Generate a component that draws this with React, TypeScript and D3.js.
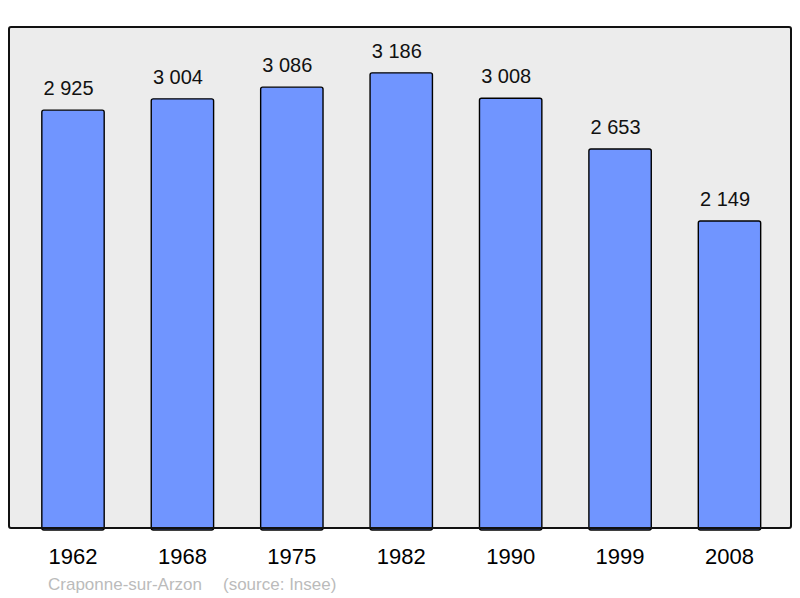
import React, { useRef, useEffect } from "react";
import * as d3 from "d3";

const years = ["1962", "1968", "1975", "1982", "1990", "1999", "2008"];
const population = [2925, 3004, 3086, 3186, 3008, 2653, 2149];
const townName = "Craponne-sur-Arzon";
const sourceText = "(source: Insee)";

const App = () => {
  const ref = useRef<SVGSVGElement>(null);

  useEffect(() => {
    const width = 800;
    const height = 598;
    const frame = { left: 9, top: 27, right: 791, bottom: 528 };
    const barColor = "#7095ff";
    const bgColor = "#ececec";
    const font = "'Liberation Sans', Arial, sans-serif";

    const svg = d3.select(ref.current).attr("width", width).attr("height", height);
    svg.selectAll("*").remove();

    // frame background
    svg.append("rect")
      .attr("x", frame.left)
      .attr("y", frame.top)
      .attr("width", frame.right - frame.left)
      .attr("height", frame.bottom - frame.top)
      .attr("rx", 2)
      .attr("fill", bgColor)
      .attr("stroke", "none");

    const x = d3.scaleBand()
      .domain(years)
      .range([18.3, 784.2])
      .paddingInner(0.43)
      .paddingOuter(0.215);

    const y = d3.scaleLinear()
      .domain([0, 3500])
      .range([frame.bottom, 28]);

    // bars
    svg.selectAll(".bar")
      .data(population)
      .enter()
      .append("rect")
      .attr("class", "bar")
      .attr("x", (d, i) => x(years[i])!)
      .attr("y", d => y(d))
      .attr("width", x.bandwidth())
      .attr("height", d => frame.bottom - y(d) + 2)
      .attr("rx", 2)
      .attr("fill", barColor)
      .attr("stroke", "#000")
      .attr("stroke-width", 1.4);

    // value labels (sit slightly left of bar centre, as in the original)
    svg.selectAll(".val")
      .data(population)
      .enter()
      .append("text")
      .attr("class", "val")
      .attr("x", (d, i) => x(years[i])! + x.bandwidth() / 2 - 4.5)
      .attr("y", d => y(d) - 15)
      .attr("text-anchor", "middle")
      .style("font-family", font)
      .style("font-size", "20px")
      .style("fill", "#111")
      .text(d => d3.format(",")(d).replace(",", " "));

    // frame border on top
    svg.append("rect")
      .attr("x", frame.left)
      .attr("y", frame.top)
      .attr("width", frame.right - frame.left)
      .attr("height", frame.bottom - frame.top)
      .attr("rx", 2)
      .attr("fill", "none")
      .attr("stroke", "#111")
      .attr("stroke-width", 2);

    // year labels
    svg.selectAll(".year")
      .data(years)
      .enter()
      .append("text")
      .attr("class", "year")
      .attr("x", d => x(d)! + x.bandwidth() / 2)
      .attr("y", 564)
      .attr("text-anchor", "middle")
      .style("font-family", font)
      .style("font-size", "22px")
      .style("fill", "#000")
      .text(d => d);

    // footer
    svg.append("text")
      .attr("x", 48)
      .attr("y", 590)
      .style("font-family", font)
      .style("font-size", "17px")
      .style("fill", "#bbbbbb")
      .text(townName);

    svg.append("text")
      .attr("x", 223)
      .attr("y", 590)
      .style("font-family", font)
      .style("font-size", "17px")
      .style("fill", "#bbbbbb")
      .text(sourceText);
  }, []);

  return (
    <div style={{ position: "absolute", left: 0, top: 0 }}>
      <svg ref={ref} style={{ display: "block" }}></svg>
    </div>
  );
};

export default App;
